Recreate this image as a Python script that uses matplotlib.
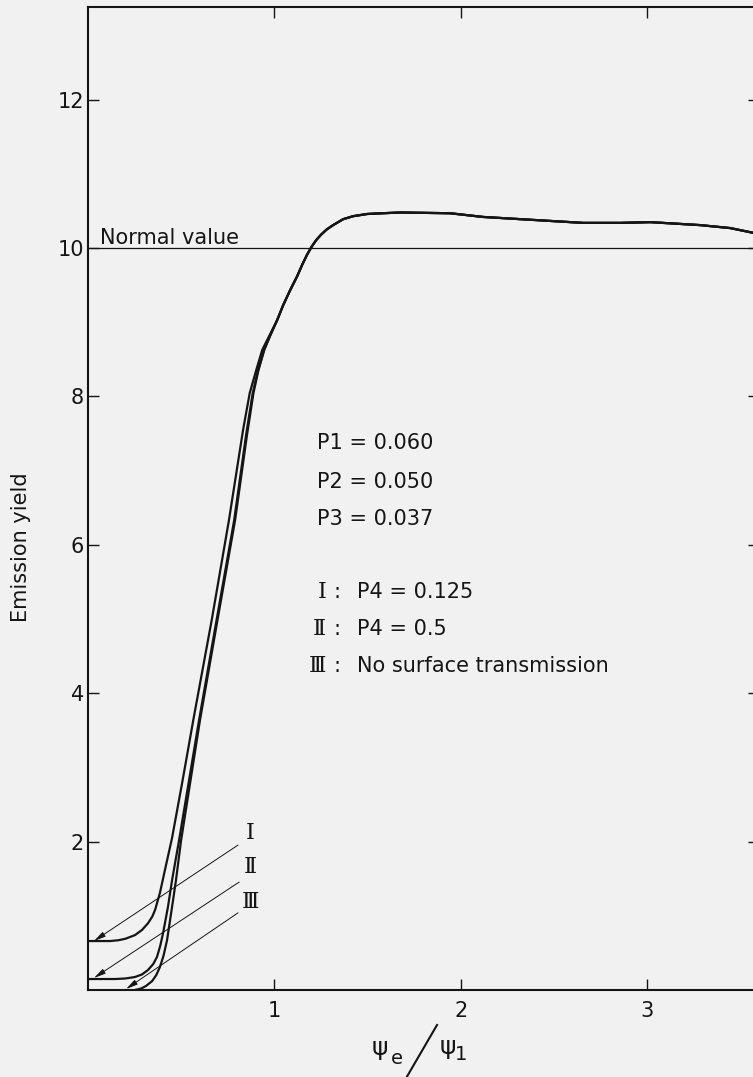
import numpy as np
import matplotlib
matplotlib.use('Agg')
import matplotlib.pyplot as plt
from matplotlib.lines import Line2D

# emission yield vs psi_e/psi_1 -- the three curves share the upper branch
upper_x = [1.015, 1.047, 1.084, 1.122, 1.150, 1.175, 1.200, 1.225, 1.250, 1.280,
           1.315, 1.342, 1.369, 1.422, 1.498, 1.580, 1.675, 1.943, 2.120,
           2.389, 2.657, 2.856, 3.017, 3.285, 3.446, 3.600]
upper_y = [9.03, 9.23, 9.43, 9.62, 9.78, 9.91, 10.02, 10.11, 10.18, 10.25,
           10.31, 10.35, 10.39, 10.43, 10.46, 10.47, 10.48, 10.47, 10.42,
           10.38, 10.34, 10.34, 10.35, 10.31, 10.27, 10.19]

# I : P4 = 0.125
curve1_x = [0.0, 0.118, 0.161, 0.200, 0.252, 0.290, 0.322, 0.345, 0.360, 0.386,
            0.413, 0.451, 0.505, 0.565, 0.664, 0.756, 0.832, 0.868, 0.902,
            0.935, 0.975]
curve1_y = [0.66, 0.66, 0.67, 0.69, 0.74, 0.81, 0.90, 0.99, 1.08, 1.31,
            1.62, 2.05, 2.79, 3.64, 4.99, 6.33, 7.55, 8.05, 8.35,
            8.63, 8.83]

# II : P4 = 0.5
curve2_x = [0.0, 0.145, 0.200, 0.252, 0.290, 0.322, 0.350, 0.370, 0.388, 0.403,
            0.429, 0.451, 0.488, 0.596, 0.690, 0.784, 0.848, 0.884, 0.912,
            0.945, 0.979]
curve2_y = [0.148, 0.148, 0.155, 0.175, 0.21, 0.27, 0.35, 0.445, 0.60, 0.77,
            1.12, 1.48, 2.01, 3.64, 4.99, 6.33, 7.48, 8.05, 8.35,
            8.63, 8.83]

# III : no surface transmission
curve3_x = [0.252, 0.285, 0.311, 0.344, 0.366, 0.386, 0.405, 0.424, 0.451,
            0.472, 0.499, 0.601, 0.695, 0.789, 0.853, 0.888, 0.914,
            0.946, 0.979]
curve3_y = [0.0, 0.02, 0.054, 0.12, 0.20, 0.31, 0.46, 0.67, 1.12,
            1.48, 2.01, 3.64, 4.99, 6.33, 7.48, 8.05, 8.35,
            8.63, 8.83]

normal_value = 10.0
params = ['P1 = 0.060', 'P2 = 0.050', 'P3 = 0.037']
param_y = [7.37, 6.85, 6.35]
cases = [('Ⅰ', 'P4 = 0.125'), ('Ⅱ', 'P4 = 0.5'), ('Ⅲ', 'No surface transmission')]
case_y = [5.36, 4.87, 4.37]
case_numerals = ['Ⅰ', 'Ⅱ', 'Ⅲ']

# leader lines: (label end) -> (arrow tip on the curve)
leader_start = [(0.805, 1.954), (0.811, 1.455), (0.805, 1.04)]
leader_tip = [(0.032, 0.66), (0.032, 0.162), (0.204, 0.013)]
numeral_pos = [(0.870, 2.116), (0.870, 1.66), (0.870, 1.19)]

bg = '#f1f1f1'
ink = '#151515'

fig = plt.figure(figsize=(7.53, 10.77), dpi=100, facecolor=bg)
ax = fig.add_axes([88 / 753, 1 - 990 / 1077, (759 - 88) / 753, (990 - 7) / 1077])
ax.set_facecolor(bg)

for cx, cy in [(curve1_x, curve1_y), (curve2_x, curve2_y), (curve3_x, curve3_y)]:
    ax.plot(list(cx) + upper_x, list(cy) + upper_y, color=ink, lw=1.6,
            solid_capstyle='round', solid_joinstyle='round')

ax.axhline(normal_value, color=ink, lw=0.9)
ax.text(0.064, normal_value + 0.06, 'Normal value', fontsize=15,
        color=ink, va='baseline', ha='left')

ax.set_xlim(0, 3.60)
ax.set_ylim(0, 13.25)
ax.set_xticks([1, 2, 3])
ax.set_yticks([2, 4, 6, 8, 10, 12])
ax.tick_params(axis='x', direction='in', length=8, width=1.0, pad=8,
               labelsize=15, colors=ink, top=True)
ax.tick_params(axis='y', direction='in', length=8, width=1.0, pad=3,
               labelsize=15, colors=ink, right=True)
for sp in ax.spines.values():
    sp.set_linewidth(1.5)
    sp.set_color(ink)

# parameter block
for s, yy in zip(params, param_y):
    ax.text(1.229, yy, s, fontsize=15, color=ink, ha='left', va='center')
for (num, s), yy in zip(cases, case_y):
    ax.text(1.278, yy, num, fontsize=16, color=ink, ha='right', va='center',
            family='DejaVu Serif')
    ax.text(1.318, yy, ':', fontsize=15, color=ink, ha='left', va='center')
    ax.text(1.444, yy, s, fontsize=15, color=ink, ha='left', va='center')

# curve labels with leader arrows
for num, (nx, ny), p0, p1 in zip(case_numerals, numeral_pos, leader_start, leader_tip):
    ax.text(nx, ny, num, fontsize=16, color=ink, ha='center', va='center',
            family='DejaVu Serif')
    ax.annotate('', xy=p1, xytext=p0,
                arrowprops=dict(arrowstyle='-|>,head_length=0.7,head_width=0.16',
                                color=ink, lw=0.7, shrinkA=0, shrinkB=0))

fig.text(21 / 753, 1 - 547 / 1077, 'Emission yield', rotation=90,
         fontsize=15, color=ink, ha='center', va='center')

# x label: psi_e / psi_1 with a long slash
fig.text(379.5 / 753, 1 - 1048 / 1077, 'ψ', fontsize=18, color=ink,
         ha='center', va='center')
fig.text(397 / 753, 1 - 1058 / 1077, 'e', fontsize=14, color=ink,
         ha='center', va='center')
fig.add_artist(Line2D([405 / 753, 437 / 753], [1 - 1080 / 1077, 1 - 1025 / 1077],
                      transform=fig.transFigure, color=ink, lw=1.5))
fig.text(447.5 / 753, 1 - 1047 / 1077, 'ψ', fontsize=18, color=ink,
         ha='center', va='center')
fig.text(461 / 753, 1 - 1055 / 1077, '1', fontsize=14, color=ink,
         ha='center', va='center')

fig.savefig('out.png', dpi=100, facecolor=bg)
